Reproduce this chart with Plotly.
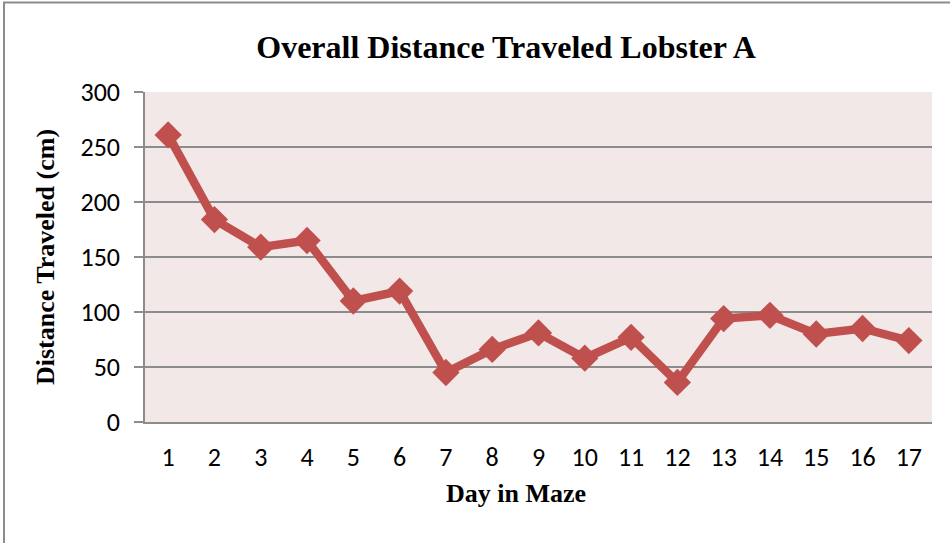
import plotly.graph_objects as go

days = [str(d) for d in range(1, 18)]
distance = [261, 184, 159, 165, 110, 119, 45, 66, 81, 58, 77, 36, 94, 97, 80, 85, 74]
y_ticks = [0, 50, 100, 150, 200, 250, 300]

tick_font = dict(family="Carlito, 'Liberation Sans Narrow', Lato, sans-serif", size=26, color="#000000")
serif_bold = "Liberation Serif, 'Times New Roman', serif"

fig = go.Figure()

fig.add_trace(
    go.Scatter(
        x=days,
        y=distance,
        mode="lines+markers",
        line=dict(color="#C0504D", width=8.5),
        marker=dict(symbol="diamond", size=21, color="#C0504D"),
        showlegend=False,
        hoverinfo="skip",
    )
)

fig.update_xaxes(
    type="category",
    range=[-0.5, 16.5],
    showgrid=False,
    showline=True,
    linecolor="#8C8C8C",
    linewidth=2,
    ticks="",
    ticklabelstandoff=11,
    tickfont=tick_font,
)
fig.update_yaxes(
    range=[0, 300],
    tickvals=y_ticks,
    showgrid=True,
    gridcolor="#8C8C8C",
    gridwidth=1.5,
    showline=True,
    linecolor="#8C8C8C",
    linewidth=1.5,
    ticks="outside",
    ticklen=9,
    tickcolor="#8C8C8C",
    tickwidth=1.5,
    ticklabelstandoff=9,
    tickfont=tick_font,
    zeroline=False,
    title=dict(text="<b>Distance Traveled (cm)</b>", font=dict(family=serif_bold, size=26, color="#000000"), standoff=18),
)

fig.update_layout(
    width=950,
    height=543,
    margin=dict(l=145, r=18, t=92, b=121),
    plot_bgcolor="#F2E8E8",
    paper_bgcolor="#FFFFFF",
    title=dict(
        text="<b>Overall Distance Traveled Lobster A</b>",
        font=dict(family=serif_bold, size=32, color="#000000"),
        x=506 / 950,
        xanchor="center",
        y=1 - 47 / 543,
        yanchor="middle",
    ),
)

# x axis title sits a little left of the plot centre in the original
fig.add_annotation(
    text="<b>Day in Maze</b>",
    xref="paper",
    yref="paper",
    x=(516 - 145) / 787,
    y=-(493 - 422) / 330,
    xanchor="center",
    yanchor="middle",
    showarrow=False,
    font=dict(family=serif_bold, size=26, color="#000000"),
)

# chart border: only left and top edges are visible in the frame
fig.add_shape(
    type="rect",
    xref="paper",
    yref="paper",
    x0=(4 - 145) / 787,
    x1=(980 - 145) / 787,
    y0=-(580 - 422) / 330,
    y1=(422 - 2.5) / 330,
    line=dict(color="#8C8C8C", width=2),
    fillcolor="rgba(0,0,0,0)",
    layer="below",
)

fig.write_html(
    "out.html",
    config={"displayModeBar": False},
    post_script="document.body.style.margin='0';",
)
